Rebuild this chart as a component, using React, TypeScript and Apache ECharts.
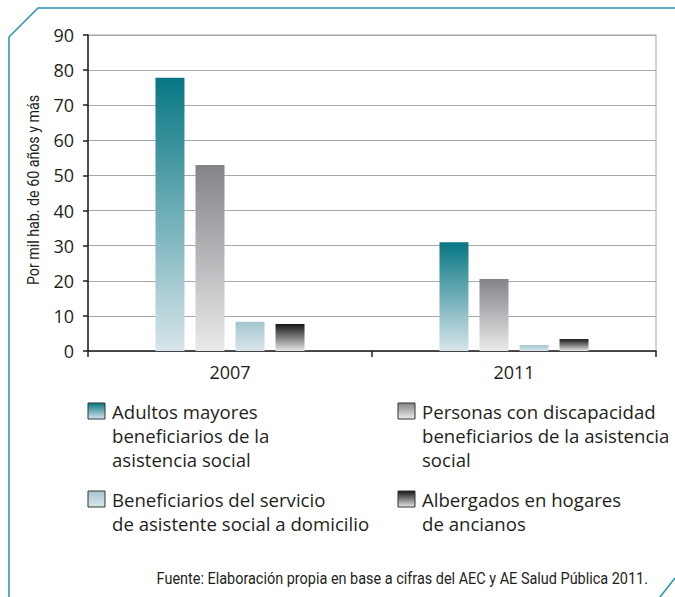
import React, { useEffect, useRef } from "react";
import * as echarts from "echarts";

const categories = ["2007", "2011"];
const seriesNames = [
  "Adultos mayores beneficiarios de la asistencia social",
  "Personas con discapacidad beneficiarios de la asistencia social",
  "Beneficiarios del servicio de asistente social a domicilio",
  "Albergados en hogares de ancianos",
];
const adultosMayores = [77.8, 31.0];
const discapacidad = [53.0, 20.5];
const asistenteDomicilio = [8.3, 1.7];
const albergados = [7.7, 3.4];
const yTicks = { min: 0, max: 90, interval: 10 };

const legendLines = [
  ["Adultos mayores", "beneficiarios de la", "asistencia social"],
  ["Personas con discapacidad", "beneficiarios de la asistencia", "social"],
  ["Beneficiarios del servicio", "de asistente social a domicilio"],
  ["Albergados en hogares", "de ancianos"],
];

const yTitle = "Por mil hab. de 60 años y más";
const source = "Fuente: Elaboración propia en base a cifras del AEC y AE Salud Pública 2011.";

const gradStops = [
  ["#067783", "#d7e5ea"],
  ["#838488", "#eaeaec"],
  ["#a4c5ce", "#d9e6eb"],
  ["#161616", "#e6e6e6"],
];

const grad = (i: number) =>
  new echarts.graphic.LinearGradient(0, 0, 0, 1, [
    { offset: 0, color: gradStops[i][0] },
    { offset: 1, color: gradStops[i][1] },
  ]);

const FONT = "'Open Sans', 'Noto Sans', sans-serif";
const NARROW = "Roboto, 'Noto Sans', sans-serif";

export default function App() {
  const ref = useRef<HTMLDivElement>(null);
  useEffect(() => {
    document.body.style.margin = "0";
    if (!ref.current) return;
    const chart = echarts.init(ref.current, undefined, { renderer: "svg" });
    const values = [adultosMayores, discapacidad, asistenteDomicilio, albergados];

    const legendPos = [
      { x: 88, y: 403, lineY: [411, 435, 459] },
      { x: 398, y: 403, lineY: [411, 435, 459] },
      { x: 88, y: 491, lineY: [499, 523] },
      { x: 398, y: 491, lineY: [499, 523] },
    ];
    const graphics: any[] = [
      {
        type: "polyline",
        shape: { points: [[675, 8], [38, 8], [9, 37], [9, 597]] },
        style: { stroke: "#2791b4", lineWidth: 1.5, fill: "none" },
        silent: true,
      },
      {
        type: "line",
        shape: { x1: 660, y1: 597, x2: 675, y2: 578 },
        style: { stroke: "#2791b4", lineWidth: 1.5 },
        silent: true,
      },
      {
        type: "text",
        x: 34,
        y: 190,
        rotation: Math.PI / 2,
        scaleX: 0.89,
        style: {
          text: yTitle,
          font: `16px ${NARROW}`,
          fill: "#231f20",
          align: "center",
          verticalAlign: "middle",
        },
      },
      {
        type: "text",
        x: 648,
        y: 578,
        scaleX: 0.85,
        style: {
          text: source,
          font: `17px ${NARROW}`,
          fill: "#231f20",
          align: "right",
          verticalAlign: "middle",
        },
      },
    ];
    legendPos.forEach((p, i) => {
      graphics.push({
        type: "rect",
        shape: { x: p.x, y: p.y, width: 17, height: 16 },
        style: { fill: grad(i), stroke: "#333", lineWidth: 1 },
      });
      legendLines[i].forEach((t, k) => {
        graphics.push({
          type: "text",
          x: p.x + 24,
          y: p.lineY[k],
          style: {
            text: t,
            font: `18.6px ${FONT}`,
            fill: "#231f20",
            align: "left",
            verticalAlign: "middle",
          },
        });
      });
    });

    chart.setOption({
      animation: false,
      backgroundColor: "#ffffff",
      grid: {
        left: 88,
        top: 35,
        right: 19,
        bottom: 246,
        show: true,
        borderColor: "#a8a8a8",
        borderWidth: 1,
      },
      xAxis: {
        type: "category",
        data: categories,
        axisLine: { lineStyle: { color: "#231f20", width: 1.5 } },
        axisTick: { show: true, alignWithLabel: false, length: 6, lineStyle: { color: "#231f20", width: 1.5 } },
        axisLabel: { fontSize: 18, color: "#231f20", fontFamily: FONT, margin: 12 },
      },
      yAxis: {
        type: "value",
        min: yTicks.min,
        max: yTicks.max,
        interval: yTicks.interval,
        axisLine: { show: true, lineStyle: { color: "#231f20", width: 1.5 } },
        axisTick: { show: true, length: 5, lineStyle: { color: "#231f20", width: 1.5 } },
        axisLabel: { fontSize: 18, color: "#231f20", fontFamily: FONT, margin: 14 },
        splitLine: { lineStyle: { color: "#a8a8a8", width: 1 } },
      },
      series: values.map((v, i) => ({
        name: seriesNames[i],
        type: "bar",
        data: v,
        barWidth: 29,
        barGap: "38%",
        itemStyle: { color: grad(i) },
      })),
      graphic: graphics,
    });
    return () => chart.dispose();
  }, []);
  return <div ref={ref} style={{ width: 675, height: 597 }} />;
}
